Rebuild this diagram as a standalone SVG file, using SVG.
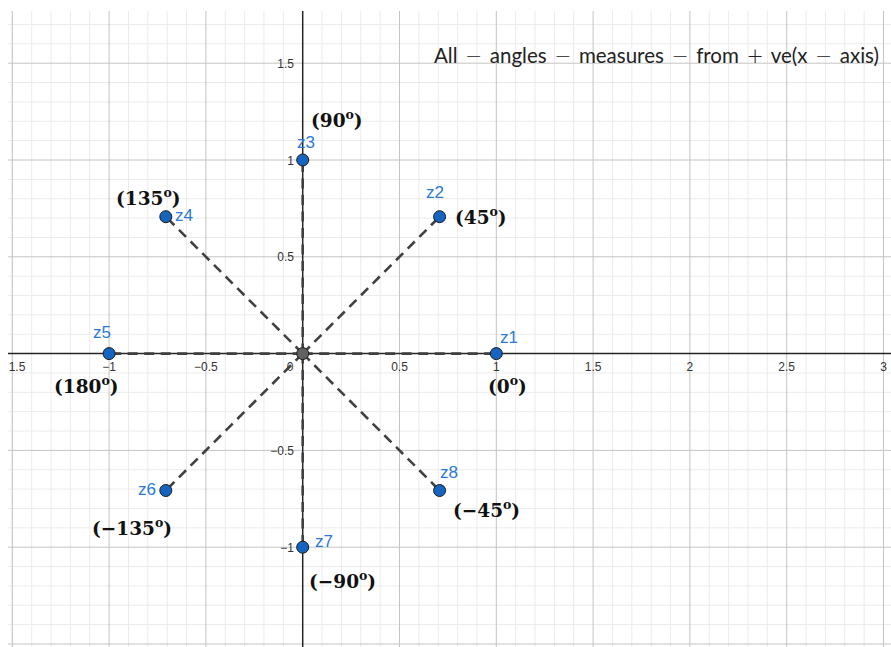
<svg xmlns="http://www.w3.org/2000/svg" width="891" height="647" viewBox="0 0 891 647">
<style>
.minor{stroke:#ebebeb;stroke-width:1;fill:none}
.major{stroke:#c4c4c4;stroke-width:1;fill:none}
.axis{stroke:#252525;stroke-width:1.5;fill:none}
.tick{font-family:"Liberation Sans",Arial,sans-serif;font-size:12px;fill:#333}
.tx{text-anchor:middle}
.ty{text-anchor:end}
.conn{stroke:#404040;stroke-width:2.6;stroke-dasharray:10 6.5;fill:none}
.pt{fill:#1565c0;stroke:#1b1b1b;stroke-width:1}
.po{fill:#616161;stroke:#1b1b1b;stroke-width:1}
.zl{font-family:"Liberation Sans",Arial,sans-serif;font-size:17px;fill:#2c7ad6}
.ang{font-family:"DejaVu Serif","Liberation Serif",serif;font-weight:bold;font-size:18.5px;fill:#111}
.deg{font-size:12.5px}
.title{font-family:Lato,"Open Sans",sans-serif;font-size:20.5px;fill:#222;word-spacing:2.3px}
.op{font-family:"DejaVu Sans",sans-serif;font-weight:300}
</style>
<rect width="891" height="647" fill="#fff"/>
<g id="grid">
<path class="minor" d="M12.3 11V647M31.66 11V647M51.02 11V647M70.38 11V647M89.74 11V647M128.46 11V647M147.82 11V647M167.18 11V647M186.54 11V647M225.26 11V647M244.62 11V647M263.98 11V647M283.34 11V647M322.06 11V647M341.42 11V647M360.78 11V647M380.14 11V647M418.86 11V647M438.22 11V647M457.58 11V647M476.94 11V647M515.66 11V647M535.02 11V647M554.38 11V647M573.74 11V647M612.46 11V647M631.82 11V647M651.18 11V647M670.54 11V647M709.26 11V647M728.62 11V647M747.98 11V647M767.34 11V647M806.06 11V647M825.42 11V647M844.78 11V647M864.14 11V647
M8 24.48H891M8 43.84H891M8 82.56H891M8 101.92H891M8 121.28H891M8 140.64H891M8 179.36H891M8 198.72H891M8 218.08H891M8 237.44H891M8 276.16H891M8 295.52H891M8 314.88H891M8 334.24H891M8 372.96H891M8 392.32H891M8 411.68H891M8 431.04H891M8 469.76H891M8 489.12H891M8 508.48H891M8 527.84H891M8 566.56H891M8 585.92H891M8 605.28H891M8 624.64H891"/>
<path class="major" d="M12.3 11V647M109.1 11V647M205.9 11V647M399.5 11V647M496.3 11V647M593.1 11V647M689.9 11V647M786.7 11V647M883.5 11V647M8 63.2H891M8 160H891M8 256.8H891M8 450.4H891M8 547.2H891M8 644H891"/>
<path class="axis" d="M302.7 11V647M8 353.6H891"/>
<g class="tick tx">
<text x="17" y="371">1.5</text>
<text x="109.1" y="371">−1</text>
<text x="205.9" y="371">−0.5</text>
<text x="290" y="371">0</text>
<text x="399.5" y="371">0.5</text>
<text x="496.3" y="371">1</text>
<text x="593.1" y="371">1.5</text>
<text x="689.9" y="371">2</text>
<text x="786.7" y="371">2.5</text>
<text x="883.5" y="371">3</text>
</g>
<g class="tick ty">
<text x="294" y="67.7">1.5</text>
<text x="294" y="164.5">1</text>
<text x="294" y="261.3">0.5</text>
<text x="294" y="454.9">−0.5</text>
<text x="294" y="551.7">−1</text>
</g>
</g>
<text class="title" x="434" y="62.7">All <tspan class="op">−</tspan> angles <tspan class="op">−</tspan> measures <tspan class="op">−</tspan> from <tspan class="op">+</tspan> ve(x <tspan class="op">−</tspan> axis)</text>
<g id="connectors">
<path class="conn" d="M302.7 353.6L496.3 353.6"/>
<path class="conn" d="M302.7 353.6L439.6 216.7"/>
<path class="conn" d="M302.7 353.6L302.7 160"/>
<path class="conn" d="M302.7 353.6L165.8 216.7"/>
<path class="conn" d="M302.7 353.6L109.1 353.6"/>
<path class="conn" d="M302.7 353.6L165.8 490.5"/>
<path class="conn" d="M302.7 353.6L302.7 547.2"/>
<path class="conn" d="M302.7 353.6L439.6 490.5"/>
</g>
<g id="O"><circle class="po" cx="302.7" cy="353.6" r="6"/></g>
<g id="z1"><circle class="pt" cx="496.3" cy="353.6" r="6"/><text class="zl" x="500" y="343">z1</text><text class="ang" x="488" y="393">(0<tspan class="deg" dy="-8">o</tspan><tspan dy="8">)</tspan></text></g>
<g id="z2"><circle class="pt" cx="439.6" cy="216.7" r="6"/><text class="zl" x="426" y="198">z2</text><text class="ang" x="455" y="224">(45<tspan class="deg" dy="-8">o</tspan><tspan dy="8">)</tspan></text></g>
<g id="z3"><circle class="pt" cx="302.7" cy="160" r="6"/><text class="zl" x="297" y="148">z3</text><text class="ang" x="311" y="127">(90<tspan class="deg" dy="-8">o</tspan><tspan dy="8">)</tspan></text></g>
<g id="z4"><circle class="pt" cx="165.8" cy="216.7" r="6"/><text class="zl" x="175" y="221">z4</text><text class="ang" x="116" y="205">(135<tspan class="deg" dy="-8">o</tspan><tspan dy="8">)</tspan></text></g>
<g id="z5"><circle class="pt" cx="109.1" cy="353.6" r="6"/><text class="zl" x="93" y="338">z5</text><text class="ang" x="54" y="393">(180<tspan class="deg" dy="-8">o</tspan><tspan dy="8">)</tspan></text></g>
<g id="z6"><circle class="pt" cx="165.8" cy="490.5" r="6"/><text class="zl" x="138" y="495">z6</text><text class="ang" x="92" y="535">(−135<tspan class="deg" dy="-8">o</tspan><tspan dy="8">)</tspan></text></g>
<g id="z7"><circle class="pt" cx="302.7" cy="547.2" r="6"/><text class="zl" x="315" y="547">z7</text><text class="ang" x="309" y="588">(−90<tspan class="deg" dy="-8">o</tspan><tspan dy="8">)</tspan></text></g>
<g id="z8"><circle class="pt" cx="439.6" cy="490.5" r="6"/><text class="zl" x="440" y="478">z8</text><text class="ang" x="453" y="517">(−45<tspan class="deg" dy="-8">o</tspan><tspan dy="8">)</tspan></text></g>
</svg>
